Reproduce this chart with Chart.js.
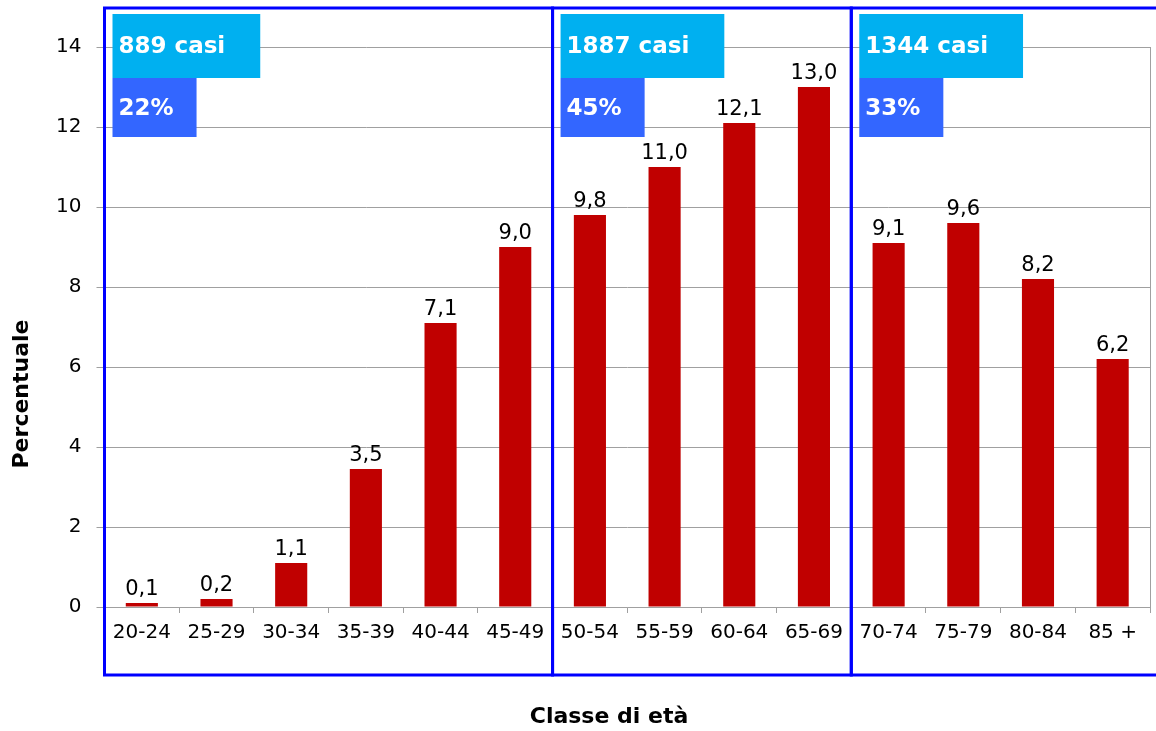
<!DOCTYPE html>
<html>
<head>
<meta charset="utf-8">
<script src="https://cdn.jsdelivr.net/npm/chart.js@4/dist/chart.umd.min.js"></script>
<style>
  html, body { margin: 0; padding: 0; background: #fff; }
  #wrap { width: 1156px; height: 731px; }
</style>
</head>
<body>
<div id="wrap"><canvas id="chart"></canvas></div>
<script>
const ageClasses    = ["20-24", "25-29", "30-34", "35-39", "40-44", "45-49", "50-54", "55-59", "60-64", "65-69", "70-74", "75-79", "80-84", "85 +"];
const percentValues = [0.1, 0.2, 1.1, 3.45, 7.1, 9.0, 9.8, 11.0, 12.1, 13.0, 9.1, 9.6, 8.2, 6.2];

// age groups framed in blue
const groupFirst = [0, 6, 10];
const groupLast  = [5, 9, 13];
const groupCases = [889, 1887, 1344];
const groupShare = [22, 45, 33];

const xTitle = "Classe di età";
const yTitle = "Percentuale";

const GRID = "#a0a0a0";
const FONT = "'DejaVu Sans', Verdana, sans-serif";

const fmt = v => v.toFixed(1).replace(".", ",");

const valueLabels = {
  id: "valueLabels",
  afterDatasetsDraw(chart) {
    const { ctx } = chart;
    const meta = chart.getDatasetMeta(0);
    ctx.save();
    ctx.font = `21px ${FONT}`;
    ctx.fillStyle = "#000";
    ctx.textAlign = "center";
    ctx.textBaseline = "alphabetic";
    meta.data.forEach((bar, i) => {
      ctx.fillText(fmt(percentValues[i]), bar.x, bar.y - 8);
    });
    ctx.restore();
  },
};

const groupFrames = {
  id: "groupFrames",
  afterDraw(chart) {
    const { ctx } = chart;
    const x = chart.scales.x;
    const half = (x.getPixelForValue(1) - x.getPixelForValue(0)) / 2;
    ctx.save();
    groupFirst.forEach((first, g) => {
      const left  = x.getPixelForValue(first) - half;
      const right = g === groupFirst.length - 1 ? chart.width + 4 : x.getPixelForValue(groupLast[g]) + half;
      ctx.strokeStyle = "#0000ff";
      ctx.lineWidth = 3;
      ctx.strokeRect(left, 8, right - left, 667);

      // info boxes
      ctx.font = `bold 23px ${FONT}`;
      const casesText = `${groupCases[g]} casi`;
      const shareText = `${groupShare[g]}%`;
      const bx = left + 8;
      ctx.fillStyle = "#00b0f0";
      ctx.fillRect(bx, 14, ctx.measureText(casesText).width + 41, 64);
      ctx.fillStyle = "#3366ff";
      ctx.fillRect(bx, 78, ctx.measureText(shareText).width + 29, 59);
      ctx.fillStyle = "#fff";
      ctx.textAlign = "left";
      ctx.textBaseline = "alphabetic";
      ctx.fillText(casesText, bx + 6, 53);
      ctx.fillText(shareText, bx + 6, 115);
    });

    // axis titles
    ctx.fillStyle = "#000";
    ctx.font = `bold 22px ${FONT}`;
    ctx.textAlign = "center";
    ctx.textBaseline = "middle";
    ctx.fillText(xTitle, 609, 717);
    ctx.translate(22, 394);
    ctx.rotate(-Math.PI / 2);
    ctx.fillText(yTitle, 0, 0);
    ctx.restore();
  },
};

new Chart(document.getElementById("chart"), {
  type: "bar",
  data: {
    labels: ageClasses,
    datasets: [{
      data: percentValues,
      backgroundColor: "#c00000",
      borderWidth: 0,
      barPercentage: 0.43,
      categoryPercentage: 1,
    }],
  },
  options: {
    responsive: true,
    maintainAspectRatio: false,
    animation: false,
    layout: { padding: { left: 0, right: 6, top: 47, bottom: 0 } },
    plugins: { legend: { display: false }, tooltip: { enabled: false } },
    scales: {
      x: {
        afterFit: s => { s.height = 124; },
        ticks: { color: "#000", font: { family: FONT, size: 20 }, padding: 8, maxRotation: 0, autoSkip: false },
        grid: {
          offset: true,
          color: ctx => ctx.type === "tick" ? "rgba(0,0,0,0)" : GRID,
          tickColor: GRID,
          tickLength: 6,
        },
        border: { color: GRID },
      },
      y: {
        min: 0,
        max: 14,
        afterFit: s => { s.width = 104.5; },
        ticks: { stepSize: 2, color: "#000", font: { family: FONT, size: 20 }, padding: 15 },
        grid: { color: GRID, tickColor: GRID, tickLength: 8 },
        border: { color: GRID },
      },
    },
  },
  plugins: [valueLabels, groupFrames],
});
</script>
</body>
</html>
